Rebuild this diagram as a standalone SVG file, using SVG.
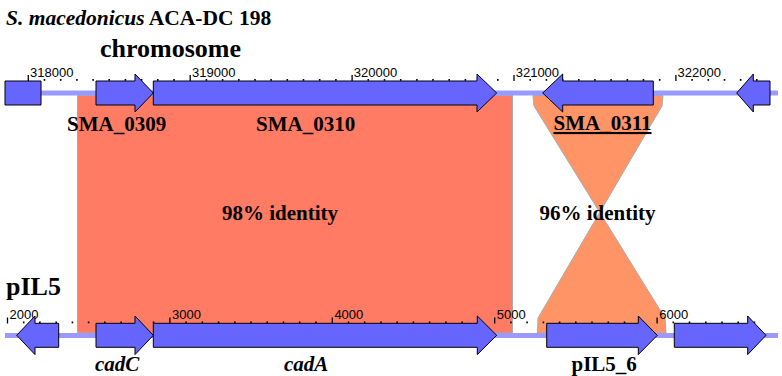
<svg xmlns="http://www.w3.org/2000/svg" width="782" height="376" viewBox="0 0 782 376">
<style>
.bb{stroke:#9999ff;stroke-width:5;fill:none}
.gene{fill:#6666ff;stroke:#000;stroke-width:1;stroke-linejoin:miter}
.hit{stroke:#aaaaaa;stroke-width:1}
.lbl{font-family:"Liberation Serif","Times New Roman",serif;font-weight:bold;font-size:21px;fill:#000}
.big{font-family:"Liberation Serif","Times New Roman",serif;font-weight:bold;font-size:26px;fill:#000}
.tk{font-family:"Liberation Sans",Arial,sans-serif;font-size:13px;fill:#000}
.maj{stroke:#000;stroke-width:1.3}
.min{fill:#000}
</style>
<rect width="782" height="376" fill="#fff"/>
<g id="titles">
<text x="6" y="25" class="big" style="font-size:21.5px"><tspan font-style="italic">S. macedonicus</tspan> ACA-DC 198</text>
<text x="100" y="57" class="big">chromosome</text>
<text x="6" y="295" class="big">pIL5</text>
</g>
<g id="hits">
<rect id="hit98" class="hit" x="77.5" y="95.5" width="435" height="237.5" fill="#ff7b63"/>
<polygon id="hit96" class="hit" fill="#ff9466" points="533,95.5 663,95.5 662,106 538,318 537.5,333 666,333 665,318 534,106"/>
</g>
<g id="backbones">
<line class="bb" x1="5" y1="93" x2="778" y2="93"/>
<line class="bb" x1="5" y1="335.5" x2="778" y2="335.5"/>
</g>
<g id="ruler-top">
<path class="maj" d="M28.3 75V81M190.2 75V81M352.1 75V81M514 75V81M675.9 75V81"/>
<g class="min">
<rect x="43.7" y="79" width="1.6" height="1.8"/><rect x="59.9" y="79" width="1.6" height="1.8"/><rect x="76.1" y="79" width="1.6" height="1.8"/><rect x="92.3" y="79" width="1.6" height="1.8"/><rect x="108.4" y="79" width="1.6" height="1.8"/><rect x="124.6" y="79" width="1.6" height="1.8"/><rect x="140.8" y="79" width="1.6" height="1.8"/><rect x="157" y="79" width="1.6" height="1.8"/><rect x="173.2" y="79" width="1.6" height="1.8"/>
<rect x="205.6" y="79" width="1.6" height="1.8"/><rect x="221.8" y="79" width="1.6" height="1.8"/><rect x="238" y="79" width="1.6" height="1.8"/><rect x="254.2" y="79" width="1.6" height="1.8"/><rect x="270.3" y="79" width="1.6" height="1.8"/><rect x="286.5" y="79" width="1.6" height="1.8"/><rect x="302.7" y="79" width="1.6" height="1.8"/><rect x="318.9" y="79" width="1.6" height="1.8"/><rect x="335.1" y="79" width="1.6" height="1.8"/>
<rect x="367.5" y="79" width="1.6" height="1.8"/><rect x="383.7" y="79" width="1.6" height="1.8"/><rect x="399.9" y="79" width="1.6" height="1.8"/><rect x="416.1" y="79" width="1.6" height="1.8"/><rect x="432.2" y="79" width="1.6" height="1.8"/><rect x="448.4" y="79" width="1.6" height="1.8"/><rect x="464.6" y="79" width="1.6" height="1.8"/><rect x="480.8" y="79" width="1.6" height="1.8"/><rect x="497" y="79" width="1.6" height="1.8"/>
<rect x="529.4" y="79" width="1.6" height="1.8"/><rect x="545.6" y="79" width="1.6" height="1.8"/><rect x="561.8" y="79" width="1.6" height="1.8"/><rect x="578" y="79" width="1.6" height="1.8"/><rect x="594.1" y="79" width="1.6" height="1.8"/><rect x="610.3" y="79" width="1.6" height="1.8"/><rect x="626.5" y="79" width="1.6" height="1.8"/><rect x="642.7" y="79" width="1.6" height="1.8"/><rect x="658.9" y="79" width="1.6" height="1.8"/>
<rect x="691.3" y="79" width="1.6" height="1.8"/><rect x="707.5" y="79" width="1.6" height="1.8"/><rect x="723.7" y="79" width="1.6" height="1.8"/><rect x="739.9" y="79" width="1.6" height="1.8"/><rect x="756" y="79" width="1.6" height="1.8"/>
</g>
<text class="tk" x="30" y="77">318000</text>
<text class="tk" x="192" y="77">319000</text>
<text class="tk" x="353.8" y="77">320000</text>
<text class="tk" x="515.7" y="77">321000</text>
<text class="tk" x="677.6" y="77">322000</text>
</g>
<g id="ruler-bottom">
<path class="maj" d="M7.5 317.5V323.5M169.9 317.5V323.5M332.3 317.5V323.5M494.7 317.5V323.5M657.1 317.5V323.5"/>
<g class="min">
<rect x="22.9" y="321.5" width="1.6" height="1.8"/><rect x="39.1" y="321.5" width="1.6" height="1.8"/><rect x="55.4" y="321.5" width="1.6" height="1.8"/><rect x="71.6" y="321.5" width="1.6" height="1.8"/><rect x="87.8" y="321.5" width="1.6" height="1.8"/><rect x="104" y="321.5" width="1.6" height="1.8"/><rect x="120.3" y="321.5" width="1.6" height="1.8"/><rect x="136.5" y="321.5" width="1.6" height="1.8"/><rect x="152.7" y="321.5" width="1.6" height="1.8"/>
<rect x="185.3" y="321.5" width="1.6" height="1.8"/><rect x="201.5" y="321.5" width="1.6" height="1.8"/><rect x="217.8" y="321.5" width="1.6" height="1.8"/><rect x="234" y="321.5" width="1.6" height="1.8"/><rect x="250.2" y="321.5" width="1.6" height="1.8"/><rect x="266.4" y="321.5" width="1.6" height="1.8"/><rect x="282.7" y="321.5" width="1.6" height="1.8"/><rect x="298.9" y="321.5" width="1.6" height="1.8"/><rect x="315.1" y="321.5" width="1.6" height="1.8"/>
<rect x="347.7" y="321.5" width="1.6" height="1.8"/><rect x="363.9" y="321.5" width="1.6" height="1.8"/><rect x="380.2" y="321.5" width="1.6" height="1.8"/><rect x="396.4" y="321.5" width="1.6" height="1.8"/><rect x="412.6" y="321.5" width="1.6" height="1.8"/><rect x="428.8" y="321.5" width="1.6" height="1.8"/><rect x="445.1" y="321.5" width="1.6" height="1.8"/><rect x="461.3" y="321.5" width="1.6" height="1.8"/><rect x="477.5" y="321.5" width="1.6" height="1.8"/>
<rect x="510.1" y="321.5" width="1.6" height="1.8"/><rect x="526.3" y="321.5" width="1.6" height="1.8"/><rect x="542.6" y="321.5" width="1.6" height="1.8"/><rect x="558.8" y="321.5" width="1.6" height="1.8"/><rect x="575" y="321.5" width="1.6" height="1.8"/><rect x="591.2" y="321.5" width="1.6" height="1.8"/><rect x="607.5" y="321.5" width="1.6" height="1.8"/><rect x="623.7" y="321.5" width="1.6" height="1.8"/><rect x="639.9" y="321.5" width="1.6" height="1.8"/>
<rect x="672.5" y="321.5" width="1.6" height="1.8"/><rect x="688.7" y="321.5" width="1.6" height="1.8"/><rect x="705" y="321.5" width="1.6" height="1.8"/><rect x="721.2" y="321.5" width="1.6" height="1.8"/><rect x="737.4" y="321.5" width="1.6" height="1.8"/><rect x="753.6" y="321.5" width="1.6" height="1.8"/>
</g>
<text class="tk" x="9.5" y="319">2000</text>
<text class="tk" x="172" y="319">3000</text>
<text class="tk" x="334.4" y="319">4000</text>
<text class="tk" x="496.8" y="319">5000</text>
<text class="tk" x="659.2" y="319">6000</text>
</g>
<g id="gene-top-1"><polygon class="gene" points="5,81 41,81 41,105 5,105"/></g>
<g id="SMA_0309"><polygon class="gene" points="96,81 135,81 135,74 153.3,93 135,112 135,105 96,105"/>
<text class="lbl" x="67" y="131">SMA_0309</text></g>
<g id="SMA_0310"><polygon class="gene" points="153.3,81 477,81 477,74 496.7,93 477,112 477,105 153.3,105"/>
<text class="lbl" x="256" y="131">SMA_0310</text></g>
<g id="SMA_0311"><polygon class="gene" points="653.3,81 562.7,81 562.7,74 542.7,93 562.7,112 562.7,105 653.3,105"/>
<text class="lbl" x="553.5" y="130" text-decoration="underline">SMA_0311</text></g>
<g id="gene-top-5"><polygon class="gene" points="770,81 753.3,81 753.3,74 736.7,93 753.3,112 753.3,105 770,105"/></g>
<g id="gene-bot-1"><polygon class="gene" points="58.7,323.3 35,323.3 35,316 16.7,335.3 35,354.6 35,347.3 58.7,347.3"/></g>
<g id="cadC"><polygon class="gene" points="96,323.3 135,323.3 135,316 153.3,335.3 135,354.6 135,347.3 96,347.3"/>
<text class="lbl" x="95" y="371" font-style="italic">cadC</text></g>
<g id="cadA"><polygon class="gene" points="153.3,323.3 477.3,323.3 477.3,316 496.7,335.3 477.3,354.6 477.3,347.3 153.3,347.3"/>
<text class="lbl" x="284" y="371" font-style="italic">cadA</text></g>
<g id="pIL5_6"><polygon class="gene" points="546.7,323.3 638.3,323.3 638.3,316 657.3,335.3 638.3,354.6 638.3,347.3 546.7,347.3"/>
<text class="lbl" x="571.5" y="371">pIL5_6</text></g>
<g id="gene-bot-5"><polygon class="gene" points="674.3,323.3 747.7,323.3 747.7,316 766,335.3 747.7,354.6 747.7,347.3 674.3,347.3"/></g>
<g id="identity-labels">
<text class="lbl" x="222" y="220">98% identity</text>
<text class="lbl" x="539.5" y="220">96% identity</text>
</g>
</svg>
